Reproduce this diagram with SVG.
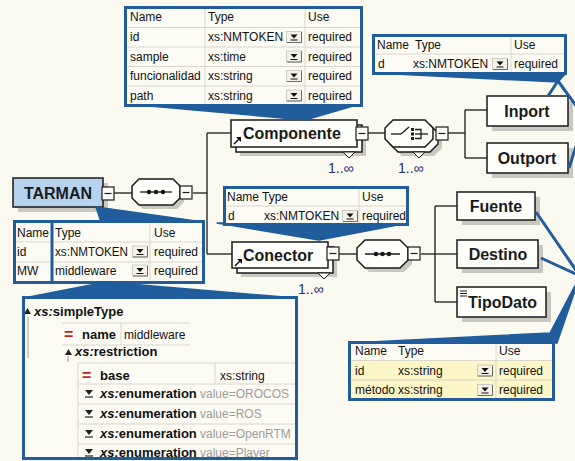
<svg xmlns="http://www.w3.org/2000/svg" width="575" height="461" viewBox="0 0 575 461">
<defs>
<style>
.bg{fill:#fbfaf1}
.shadow{fill:#c8c7c0}
.box{fill:#fefefa;stroke:#1a1a1a;stroke-width:1.5}
.lbl{font-family:"Liberation Sans",Arial,sans-serif;font-weight:bold;font-size:16px;fill:#1a1a1a}
.wire{fill:none;stroke:#1a1a1a;stroke-width:1.3}
.btn{fill:#fefefa;stroke:#1a1a1a;stroke-width:1.2}
.mult{font-family:"Liberation Sans","DejaVu Sans",Arial,sans-serif;font-size:14px;fill:#2b2b7a}
.panel{fill:#fcfbf4;stroke:#215d9c;stroke-width:3}
.ptr{fill:#215d9c;stroke:#215d9c;stroke-width:1.5;stroke-linejoin:round}
.ptrl{fill:none;stroke:#215d9c;stroke-width:3;stroke-linejoin:round}
.grid{stroke:#d8d6ca;stroke-width:1;fill:none}
.t{font-family:"Liberation Sans",Arial,sans-serif;font-size:12px;fill:#111}
.tb{font-family:"Liberation Sans",Arial,sans-serif;font-size:13px;font-weight:bold;fill:#111}
.tv{font-family:"Liberation Sans",Arial,sans-serif;font-size:12px;fill:#9c9c9c}
.eq{font-family:"Liberation Sans",Arial,sans-serif;font-size:16px;font-weight:bold;fill:#c0282a}
.tree{stroke:#9a9a9a;stroke-width:1;fill:none}
</style>
<!-- combo-box arrow used in attribute tables -->
<g id="dd">
  <rect x="0.5" y="0.5" width="15" height="11" fill="#f3f1e8" stroke="#c4c2b8" stroke-width="0.8"/>
  <path d="M1 11.5 H15.5 V1" fill="none" stroke="#6a6a6a" stroke-width="1"/>
  <polygon points="4.5,3.5 11.5,3.5 8,7.5" fill="#111"/>
  <line x1="4.5" y1="9" x2="11.5" y2="9" stroke="#111" stroke-width="1"/>
</g>
<!-- enumeration facet icon -->
<g id="enum">
  <polygon points="0,0 8,0 4,5" fill="#222"/>
  <line x1="0" y1="7" x2="8" y2="7" stroke="#222" stroke-width="1.2"/>
</g>
<!-- collapse button -->
<g id="minus">
  <rect class="btn" x="0" y="0" width="12" height="13"/>
  <line x1="2.5" y1="6.5" x2="9.5" y2="6.5" stroke="#1a1a1a" stroke-width="1.2"/>
</g>
<!-- global reference arrow -->
<g id="refarrow">
  <line x1="0" y1="7" x2="5" y2="2" stroke="#111" stroke-width="1.5"/>
  <polygon points="2,0 7,0 7,5" fill="#111"/>
</g>
<clipPath id="panelClip"><rect x="25" y="299" width="270" height="158"/></clipPath>
</defs>

<rect class="bg" x="0" y="0" width="575" height="461"/>

<!-- wiring between particles -->
<g id="connectors">
  <line class="wire" x1="114" y1="193" x2="132" y2="193"/>
  <line class="wire" x1="193" y1="193" x2="207" y2="193"/>
  <line class="wire" x1="207" y1="133" x2="207" y2="254"/>
  <line class="wire" x1="207" y1="133" x2="231" y2="133"/>
  <line class="wire" x1="207" y1="254" x2="232" y2="254"/>
  <line class="wire" x1="368" y1="133" x2="385" y2="133"/>
  <line class="wire" x1="448" y1="133" x2="465" y2="133"/>
  <line class="wire" x1="465" y1="110" x2="465" y2="158"/>
  <line class="wire" x1="465" y1="110" x2="487" y2="110"/>
  <line class="wire" x1="465" y1="158" x2="487" y2="158"/>
  <line class="wire" x1="339" y1="254" x2="357" y2="254"/>
  <line class="wire" x1="421" y1="254" x2="435" y2="254"/>
  <line class="wire" x1="435" y1="206" x2="435" y2="302"/>
  <line class="wire" x1="435" y1="206" x2="457" y2="206"/>
  <line class="wire" x1="435" y1="254" x2="457" y2="254"/>
  <line class="wire" x1="435" y1="302" x2="457" y2="302"/>
</g>

<!-- root element -->
<g id="node-tarman">
  <rect class="shadow" x="18" y="183" width="90" height="29"/>
  <rect x="13" y="178" width="90" height="29" fill="#b7d2ec" stroke="#1a1a1a" stroke-width="1.5"/>
  <text class="lbl" x="58" y="199" text-anchor="middle">TARMAN</text>
  <use href="#minus" x="102" y="187"/>
</g>

<!-- sequence under TARMAN -->
<g id="seq-tarman">
  <path class="shadow" transform="translate(4,4)" d="M139,179 H173 L180,186 V198 L173,205 H139 L132,198 V186 Z"/>
  <path class="box" d="M139,179 H173 L180,186 V198 L173,205 H139 L132,198 V186 Z"/>
  <line x1="140" y1="192" x2="172" y2="192" stroke="#1a1a1a" stroke-width="1.3"/>
  <circle cx="149" cy="192" r="2.3" fill="#1a1a1a"/>
  <circle cx="156" cy="192" r="2.3" fill="#1a1a1a"/>
  <circle cx="163" cy="192" r="2.3" fill="#1a1a1a"/>
  <use href="#minus" x="180" y="186"/>
</g>

<!-- Componente element (1..inf) -->
<g id="node-componente">
  <rect class="shadow" x="240" y="129" width="126" height="27"/>
  <rect class="box" x="236" y="125" width="126" height="27"/>
  <rect class="box" x="231" y="120" width="126" height="27"/>
  <polygon points="343,152 355,152 349,158" fill="#fefefa" stroke="#1a1a1a" stroke-width="1"/>
  <text class="lbl" x="243" y="139">Componente</text>
  <use href="#refarrow" x="234" y="137"/>
  <use href="#minus" x="356" y="127"/>
  <text class="mult" x="328" y="173">1..∞</text>
</g>

<!-- choice under Componente (1..inf) -->
<g id="choice-componente">
  <path class="shadow" transform="translate(9,9)" d="M393,120 H425 L433,128 V139 L425,147 H393 L385,139 V128 Z"/>
  <path class="box" transform="translate(5,5)" d="M393,120 H425 L433,128 V139 L425,147 H393 L385,139 V128 Z"/>
  <path class="box" d="M393,120 H425 L433,128 V139 L425,147 H393 L385,139 V128 Z"/>
  <polygon points="413,152 425,152 419,158" fill="#fefefa" stroke="#1a1a1a" stroke-width="1"/>
  <g stroke="#1a1a1a" stroke-width="1.3" fill="none">
    <line x1="391" y1="134" x2="401" y2="134"/>
    <line x1="401" y1="134" x2="409" y2="127"/>
    <polyline points="415,129.5 421,129.5 421,138.5 415,138.5"/>
    <line x1="415" y1="134" x2="428" y2="134"/>
  </g>
  <rect x="411" y="128" width="3" height="3" fill="#1a1a1a"/>
  <rect x="411" y="132.5" width="3" height="3" fill="#1a1a1a"/>
  <rect x="411" y="137" width="3" height="3" fill="#1a1a1a"/>
  <use href="#minus" x="436" y="127"/>
  <text class="mult" x="398" y="173">1..∞</text>
</g>

<g id="node-inport">
  <rect class="shadow" x="492" y="101" width="81" height="30"/>
  <rect class="box" x="487" y="96" width="81" height="30"/>
  <text class="lbl" x="527" y="117" text-anchor="middle">Inport</text>
</g>

<g id="node-outport">
  <rect class="shadow" x="492" y="148" width="81" height="30"/>
  <rect class="box" x="487" y="143" width="81" height="30"/>
  <text class="lbl" x="527" y="164" text-anchor="middle">Outport</text>
</g>

<!-- Conector element (1..inf) -->
<g id="node-conector">
  <rect class="shadow" x="241" y="251" width="96" height="26"/>
  <rect class="box" x="237" y="247" width="96" height="26"/>
  <rect class="box" x="232" y="242" width="96" height="26"/>
  <polygon points="318,273 330,273 324,279" fill="#fefefa" stroke="#1a1a1a" stroke-width="1"/>
  <text class="lbl" x="243" y="261">Conector</text>
  <use href="#refarrow" x="235" y="259"/>
  <use href="#minus" x="327" y="247"/>
  <text class="mult" x="298" y="294">1..∞</text>
</g>

<!-- sequence under Conector -->
<g id="seq-conector">
  <path class="shadow" transform="translate(4,4)" d="M365,240 H400 L408,248 V260 L400,268 H365 L357,260 V248 Z"/>
  <path class="box" d="M365,240 H400 L408,248 V260 L400,268 H365 L357,260 V248 Z"/>
  <line x1="365" y1="254" x2="400" y2="254" stroke="#1a1a1a" stroke-width="1.3"/>
  <circle cx="376" cy="254" r="2.3" fill="#1a1a1a"/>
  <circle cx="382.5" cy="254" r="2.3" fill="#1a1a1a"/>
  <circle cx="389" cy="254" r="2.3" fill="#1a1a1a"/>
  <use href="#minus" x="408" y="247"/>
</g>

<g id="node-fuente">
  <rect class="shadow" x="462" y="197" width="78" height="28"/>
  <rect class="box" x="457" y="192" width="78" height="28"/>
  <text class="lbl" x="496" y="212" text-anchor="middle">Fuente</text>
</g>

<g id="node-destino">
  <rect class="shadow" x="462" y="245" width="81" height="28"/>
  <rect class="box" x="457" y="240" width="81" height="28"/>
  <text class="lbl" x="498" y="260" text-anchor="middle">Destino</text>
</g>

<g id="node-tipodato">
  <rect class="shadow" x="462" y="292" width="89" height="30"/>
  <rect class="box" x="457" y="287" width="89" height="30"/>
  <g stroke="#1a1a1a" stroke-width="1">
    <line x1="460" y1="291" x2="467" y2="291"/>
    <line x1="460" y1="293.5" x2="467" y2="293.5"/>
    <line x1="460" y1="296" x2="467" y2="296"/>
  </g>
  <text class="lbl" x="468" y="308">TipoDato</text>
</g>

<!-- attribute table of Componente -->
<g id="attrs-componente">
  <polygon class="ptr" points="127,104 360,104 305,120"/>
  <rect class="panel" x="125.5" y="7.5" width="236" height="98"/>
  <g class="grid">
    <line x1="127" y1="27.5" x2="360" y2="27.5"/>
    <line x1="127" y1="47" x2="360" y2="47"/>
    <line x1="127" y1="66.5" x2="360" y2="66.5"/>
    <line x1="127" y1="86" x2="360" y2="86"/>
    <line x1="205" y1="9" x2="205" y2="104"/>
    <line x1="305" y1="9" x2="305" y2="104"/>
  </g>
  <text class="t" x="130" y="21">Name</text>
  <text class="t" x="208" y="21">Type</text>
  <text class="t" x="308" y="21">Use</text>
  <text class="t" x="130" y="41">id</text>
  <text class="t" x="208" y="41">xs:NMTOKEN</text>
  <use href="#dd" x="286" y="31"/>
  <text class="t" x="308" y="41">required</text>
  <text class="t" x="130" y="60.5">sample</text>
  <text class="t" x="208" y="60.5">xs:time</text>
  <use href="#dd" x="286" y="50.5"/>
  <text class="t" x="308" y="60.5">required</text>
  <text class="t" x="130" y="80">funcionalidad</text>
  <text class="t" x="208" y="80">xs:string</text>
  <use href="#dd" x="286" y="70"/>
  <text class="t" x="308" y="80">required</text>
  <text class="t" x="130" y="99.5">path</text>
  <text class="t" x="208" y="99.5">xs:string</text>
  <use href="#dd" x="286" y="89.5"/>
  <text class="t" x="308" y="99.5">required</text>
</g>

<!-- attribute table pointing at Inport / Outport -->
<g id="attrs-ports">
  <polygon class="ptr" points="374,73 566,73 558,82"/>
  <polyline class="ptrl" points="548,96 558,81 585,118 569,168"/>
  <rect class="panel" x="373.5" y="35.5" width="192" height="38"/>
  <g class="grid">
    <line x1="375" y1="54" x2="564" y2="54"/>
    <line x1="511" y1="37" x2="511" y2="72"/>
  </g>
  <text class="t" x="377" y="49">Name</text>
  <text class="t" x="415" y="49">Type</text>
  <text class="t" x="514" y="49">Use</text>
  <text class="t" x="378" y="68">d</text>
  <text class="t" x="413" y="68">xs:NMTOKEN</text>
  <use href="#dd" x="492" y="58"/>
  <text class="t" x="514" y="68">required</text>
</g>

<!-- attribute table of Conector -->
<g id="attrs-conector">
  <polygon class="ptr" points="217,223 408,223 319,240"/>
  <rect class="panel" x="224.5" y="187.5" width="183" height="37"/>
  <g class="grid">
    <line x1="226" y1="206" x2="406" y2="206"/>
    <line x1="359" y1="189" x2="359" y2="223"/>
  </g>
  <text class="t" x="227" y="200.5">Name</text>
  <text class="t" x="262" y="200.5">Type</text>
  <text class="t" x="362" y="200.5">Use</text>
  <text class="t" x="228" y="219.5">d</text>
  <text class="t" x="264" y="219.5">xs:NMTOKEN</text>
  <use href="#dd" x="342" y="210"/>
  <text class="t" x="362" y="219.5">required</text>
</g>

<!-- attribute table of TARMAN -->
<g id="attrs-tarman">
  <polygon class="ptr" points="96,207 101,222 203,222"/>
  <rect class="panel" x="14.5" y="221.5" width="189" height="61"/>
  <g class="grid">
    <line x1="16" y1="242" x2="202" y2="242"/>
    <line x1="16" y1="262" x2="202" y2="262"/>
    <line x1="150" y1="223" x2="150" y2="281"/>
  </g>
  <line x1="52" y1="221" x2="52" y2="283" stroke="#215d9c" stroke-width="3"/>
  <text class="t" x="17" y="236.5">Name</text>
  <text class="t" x="55" y="236.5">Type</text>
  <text class="t" x="154" y="236.5">Use</text>
  <text class="t" x="17" y="255.5">id</text>
  <text class="t" x="55" y="255.5" textLength="73" lengthAdjust="spacingAndGlyphs">xs:NMTOKEN</text>
  <use href="#dd" x="132" y="245.5"/>
  <text class="t" x="154" y="255.5">required</text>
  <text class="t" x="17" y="274.5">MW</text>
  <text class="t" x="55" y="274.5">middleware</text>
  <use href="#dd" x="132" y="264.5"/>
  <text class="t" x="154" y="274.5">required</text>
</g>

<!-- simple type definition of middleware -->
<g id="simpletype-middleware">
  <polygon class="ptr" points="106,282 24,298 296,298"/>
  <rect class="panel" x="23.5" y="297.5" width="273" height="161"/>
  <g clip-path="url(#panelClip)">
    <line class="tree" x1="28" y1="317" x2="28" y2="358"/>
    <polygon points="24,314 31,314 27.5,308" fill="#222"/>
    <text class="tb" x="34" y="316"><tspan font-style="italic">xs:</tspan>simpleType</text>
    <g class="grid">
      <polyline points="62,323 190,323"/>
      <polyline points="62,345 190,345"/>
      <line x1="121" y1="323" x2="121" y2="345"/>
    </g>
    <text class="eq" x="64" y="340">=</text>
    <text class="tb" x="82" y="339">name</text>
    <text class="t" x="124" y="339">middleware</text>
    <line class="tree" x1="68" y1="356" x2="68" y2="362"/>
    <polygon points="65,355 72,355 68.5,349" fill="#222"/>
    <text class="tb" x="75" y="356"><tspan font-style="italic">xs:</tspan>restriction</text>
    <g class="grid">
      <line x1="78" y1="363" x2="300" y2="363"/>
      <line x1="78" y1="384" x2="300" y2="384"/>
      <line x1="78" y1="404" x2="300" y2="404"/>
      <line x1="78" y1="424" x2="300" y2="424"/>
      <line x1="78" y1="444" x2="300" y2="444"/>
      <line x1="78" y1="363" x2="78" y2="460"/>
      <line x1="215" y1="363" x2="215" y2="384"/>
    </g>
    <text class="eq" x="82" y="381">=</text>
    <text class="tb" x="100" y="380">base</text>
    <text class="t" x="220" y="380">xs:string</text>
    <use href="#enum" x="85" y="390"/>
    <text class="tb" x="100" y="398"><tspan font-style="italic">xs:</tspan>enumeration</text>
    <text class="tv" x="200" y="398">value=OROCOS</text>
    <use href="#enum" x="85" y="410"/>
    <text class="tb" x="100" y="418"><tspan font-style="italic">xs:</tspan>enumeration</text>
    <text class="tv" x="200" y="418">value=ROS</text>
    <use href="#enum" x="85" y="430"/>
    <text class="tb" x="100" y="438"><tspan font-style="italic">xs:</tspan>enumeration</text>
    <text class="tv" x="200" y="438">value=OpenRTM</text>
    <use href="#enum" x="85" y="449"/>
    <text class="tb" x="100" y="457"><tspan font-style="italic">xs:</tspan>enumeration</text>
    <text class="tv" x="200" y="457">value=Player</text>
  </g>
</g>

<!-- attribute table pointing at Fuente / Destino / TipoDato -->
<g id="attrs-links">
  <polyline class="ptrl" points="536,212 580,276 541,258"/>
  <polygon class="ptr" points="350,343 550,333 580,276 557,343"/>
  <rect class="panel" x="349.5" y="342.5" width="204" height="57"/>
  <rect x="351" y="361" width="201" height="37" fill="#fdf6c6"/>
  <g class="grid">
    <line x1="351" y1="360.5" x2="552" y2="360.5"/>
    <line x1="351" y1="380" x2="552" y2="380"/>
    <line x1="496" y1="344" x2="496" y2="398"/>
  </g>
  <text class="t" x="355" y="355">Name</text>
  <text class="t" x="398" y="355">Type</text>
  <text class="t" x="499" y="355">Use</text>
  <text class="t" x="355" y="374.5">id</text>
  <text class="t" x="398" y="374.5">xs:string</text>
  <use href="#dd" x="477" y="364.5"/>
  <text class="t" x="499" y="374.5">required</text>
  <text class="t" x="355" y="394">método</text>
  <text class="t" x="398" y="394">xs:string</text>
  <use href="#dd" x="477" y="384"/>
  <text class="t" x="499" y="394">required</text>
</g>
</svg>
